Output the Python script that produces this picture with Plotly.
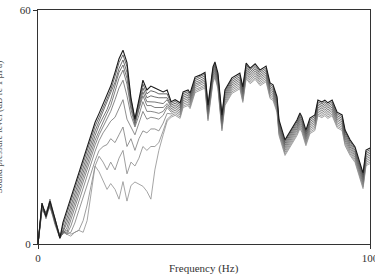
import plotly.graph_objects as go

# Frequency grid for the low-frequency part (where curves diverge)
freq_left = [0.0, 1.2, 2.4, 3.6, 5.1, 6.6, 7.5, 8.7, 9.9, 11.1, 12.3, 13.6, 14.8, 16.0,
             17.2, 18.4, 19.6, 20.8, 21.9, 23.2, 24.4, 25.6, 26.8, 28.0, 29.2, 30.4,
             31.6, 32.8, 34.0, 35.2, 36.4, 37.7, 38.9]

# Levels (dB) of each curve in the low-frequency part, top (darkest) to bottom (lightest)
curve0 = [0, 10.5, 7, 11, 6.5, 1.5, 5.5, 8.7, 12, 15.2, 18.4, 21.6, 24.8, 28, 31.2, 33.5, 36, 38,
          40.5, 44, 47.5, 49.7, 46.5, 37.5, 32, 37, 42, 39.5, 40.5, 40, 39.5, 39, 39.5]
curve1 = [0, 10, 7.5, 10.5, 6, 1.5, 4.6, 7.8, 11, 14.2, 17.4, 20.6, 23.8, 27, 30.2, 32.5, 35, 37,
          39.5, 43, 46.5, 48.5, 45.5, 37, 32, 36.5, 41, 38.5, 39.3, 39, 38.5, 38.5, 38.5]
curve2 = [0, 9.5, 8, 11, 5.5, 2, 3.4, 6.6, 9.8, 13, 16.2, 19.4, 22.6, 25.8, 29, 31.5, 34, 36,
          38.5, 41.5, 45, 47.2, 44, 36.5, 31.5, 35.5, 40, 37.5, 38, 37.7, 37.5, 37.5, 37.5]
curve3 = [0, 10.5, 6.5, 10, 6, 1.5, 3, 5.4, 8.6, 11.8, 15, 18.2, 21.4, 24.6, 27.8, 30.5, 32.5, 34.5,
          37, 40.5, 44, 45.9, 42.5, 35.5, 31, 35, 39, 36.5, 36.5, 36.4, 36.2, 36, 37]
curve4 = [0, 9, 7, 11.5, 6.5, 2, 2.5, 4.2, 7.4, 10.6, 13.8, 17, 20.2, 23.4, 26.6, 29, 31.5, 33.5,
          35.5, 39, 42.5, 44.6, 41, 34.5, 30.5, 34.5, 38, 35.5, 35.5, 35, 35, 35, 36]
curve5 = [0, 10, 8, 10, 5, 1.5, 3, 3, 6.2, 9.4, 12.6, 15.8, 19, 22.2, 25.4, 28, 30, 32,
          34, 37, 40, 42, 38, 33, 30, 33, 36.5, 34, 34, 33.8, 33.5, 34, 35.5]
curve6 = [0, 9.5, 7, 10.5, 6, 2, 3.5, 2.5, 4.6, 7.8, 11, 14.2, 17.4, 20.6, 23.8, 26.5, 28.5, 30,
          31.5, 32.5, 35, 37, 32, 30, 28, 31, 34, 32, 32.5, 32.3, 32, 33, 35]
curve7 = [0, 10, 7.5, 9.5, 5.5, 1.5, 3, 2.5, 3, 5.4, 8.6, 11.8, 15, 18.2, 21.4, 24, 25, 25.5,
          27, 26, 28, 30, 25, 27, 24, 27, 29, 28.5, 29.5, 29.5, 29, 31, 33.5]
curve8 = [0, 9, 7.5, 10, 6.5, 2, 3, 3.5, 2.5, 3, 3.5, 6, 10, 15, 20, 22.5, 21, 19,
          21, 19, 22, 24, 18, 21, 20, 22, 25, 24, 25, 25, 26, 29, 32]
curve9 = [0, 8.5, 8, 9.5, 6, 2, 3.5, 2.5, 2, 3, 3.5, 3, 6, 13, 20, 18.5, 16.4, 14,
          15.5, 14, 11.5, 16, 11, 15, 15.9, 15.3, 14.8, 13.5, 11.5, 19, 24, 28, 31.5]

# High-frequency part: curves run nearly parallel
freq_right = [40.1, 41.3, 42.8, 43.7, 45.2, 45.8, 47.3, 48.8, 50.3, 51.2, 52.7, 53.3, 54.2,
              55.4, 56.3, 58.4, 60.8, 61.7, 62.7, 63.9, 65.4, 66.9, 68.7, 69.9, 70.8, 72.0,
              72.6, 74.4, 76.5, 78.0, 78.9, 79.5, 80.7, 81.9, 83.4, 84.3, 85.5, 86.4, 87.3,
              88.6, 90.1, 91.6, 92.5, 94.0, 95.5, 97.0, 97.9, 98.8, 100.0]
level_right_top = [36.5, 37, 36.2, 39, 39.5, 38.7, 42.8, 43.3, 44, 35.6, 45.4, 46.7, 43.8,
                   33, 39.5, 42.6, 43.8, 40.3, 46.4, 45.1, 46.2, 44.6, 45.6, 41.3, 40.8, 37.7,
                   31.8, 26.7, 29.7, 31.8, 33.6, 32.6, 29.2, 32.3, 33.1, 36.9, 36.4, 36.9, 36.2,
                   36.9, 33.8, 33.1, 29.2, 26.7, 24.9, 20.8, 18.2, 24.1, 24.6]
# Read spacing of the band of curves below the top one (dB)
band_offsets = [0, 0.45, 0.9, 1.35, 1.8, 2.25, 2.7, 3.15, 3.6, 4.0]

left_curves = [curve0, curve1, curve2, curve3, curve4, curve5, curve6, curve7, curve8, curve9]
colors = ["#1a1a1a", "#4a4a4a", "#555555", "#5f5f5f", "#686868",
          "#717171", "#7a7a7a", "#838383", "#8c8c8c", "#959595"]
widths = [1.1, 0.85, 0.85, 0.85, 0.85, 0.85, 0.85, 0.85, 0.85, 0.85]

x_ticks = [0, 100]
x_ticktext = ["0", "100"]
y_ticks = [0, 60]

fig = go.Figure()
for k in reversed(range(len(left_curves))):
    xs = freq_left + freq_right
    ys = left_curves[k] + [v - band_offsets[k] for v in level_right_top]
    fig.add_trace(go.Scatter(x=xs, y=ys, mode="lines",
                             line=dict(color=colors[k], width=widths[k]),
                             showlegend=False, hoverinfo="skip"))

axis_common = dict(showline=True, mirror=True, linecolor="#333333", linewidth=1.2,
                   ticks="outside", ticklen=4, tickcolor="#333333", tickwidth=1.2,
                   showgrid=False, zeroline=False, automargin=False,
                   tickfont=dict(family="Liberation Serif", size=11, color="#333333"))

fig.update_layout(
    width=375, height=274,
    margin=dict(l=38, r=5, t=10, b=30),
    paper_bgcolor="white", plot_bgcolor="white",
    xaxis=dict(range=[0, 100], tickvals=x_ticks, ticktext=x_ticktext,
               ticklabeloverflow="allow", **axis_common),
    yaxis=dict(range=[0, 60], tickvals=y_ticks, **axis_common),
    annotations=[
        dict(text="Frequency (Hz)", x=0.5, y=-0.103, xref="paper", yref="paper",
             xanchor="center", yanchor="middle", showarrow=False,
             font=dict(family="Liberation Serif", size=11, color="#333333")),
        dict(text="Sound pressure level (dB re 1 μPa)", x=-0.116, y=0.5,
             xref="paper", yref="paper", textangle=-90,
             xanchor="center", yanchor="middle", showarrow=False,
             font=dict(family="Liberation Serif", size=9.5, color="#555555")),
    ],
)

fig.write_html("out.html")
